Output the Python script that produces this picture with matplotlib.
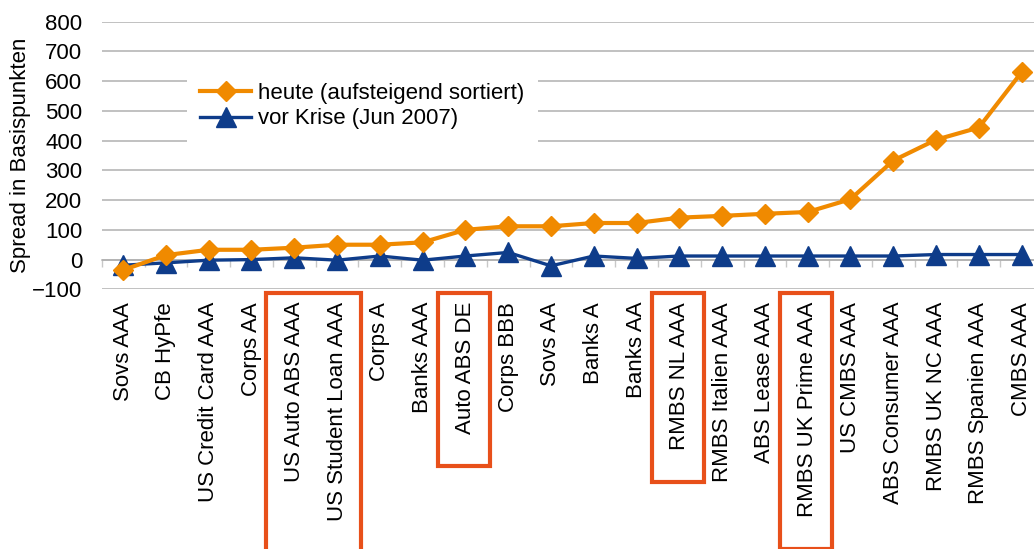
import numpy as np
import matplotlib
matplotlib.use('Agg')
import matplotlib.pyplot as plt
import matplotlib.transforms as mtransforms
from matplotlib.patches import Rectangle

categories = ['Sovs AAA', 'CB HyPfe', 'US Credit Card AAA', 'Corps AA', 'US Auto ABS AAA',
              'US Student Loan AAA', 'Corps A', 'Banks AAA', 'Auto ABS DE', 'Corps BBB',
              'Sovs AA', 'Banks A', 'Banks AA', 'RMBS NL AAA', 'RMBS Italien AAA',
              'ABS Lease AAA', 'RMBS UK Prime AAA', 'US CMBS AAA', 'ABS Consumer AAA',
              'RMBS UK NC AAA', 'RMBS Spanien AAA', 'CMBS AAA']
heute = [-35, 15, 33, 33, 40, 50, 50, 58, 100, 112, 112, 123, 123, 141, 147, 154,
         160, 203, 333, 403, 444, 630]
vor_krise = [-19, -11, -2, 0, 6, -2, 12, -2, 12, 24, -21, 12, 4, 12, 12, 12,
             12, 12, 12, 17, 17, 17]
highlight = [['US Auto ABS AAA', 'US Student Loan AAA'], ['Auto ABS DE'],
             ['RMBS NL AAA'], ['RMBS UK Prime AAA']]

plt.rcParams['font.family'] = ['Liberation Sans', 'DejaVu Sans']
plt.rcParams['font.size'] = 16

orange = '#F08A00'
blue = '#0E3C8A'
grid = '#B0B0B0'

fig = plt.figure(figsize=(10.34, 5.49), dpi=100)
ax = fig.add_axes([0.0984, 0.473, 0.9103, 0.4875])

x = np.arange(len(categories))
ax.plot(x, heute, color=orange, lw=3, marker='D', ms=10.5, label='heute (aufsteigend sortiert)', zorder=4)
ax.plot(x, vor_krise, color=blue, lw=2.4, marker='^', ms=14.5, label='vor Krise (Jun 2007)', zorder=3)

ax.set_xlim(-0.5, len(categories) - 0.5)
ax.set_ylim(-100, 800)
ax.set_yticks(np.arange(-100, 801, 100))
ax.yaxis.grid(True, color=grid, lw=1.1)
ax.set_axisbelow(True)
for s in ax.spines.values():
    s.set_visible(False)
ax.tick_params(axis='y', length=0, pad=14)
ax.set_xticks(x)
ax.set_xticklabels(categories, rotation=90, va='top', ha='center')
ax.tick_params(axis='x', length=0, pad=9)
ax.set_ylabel('Spread in Basispunkten', labelpad=1)

# category axis with boundary ticks at y = 0
ymin, ymax = ax.get_ylim()
sec = ax.secondary_xaxis((0 - ymin) / (ymax - ymin))
sec.set_xticks(np.arange(len(categories) + 1) - 0.5)
sec.set_xticklabels([])
sec.tick_params(length=5, width=1, color='#C8C8C8', direction='out')
sec.spines['bottom'].set_color(grid)
sec.spines['bottom'].set_linewidth(1.1)

leg = ax.legend(loc='upper left', bbox_to_anchor=(0.0906, 0.8225), frameon=True,
                facecolor='white', edgecolor='none', framealpha=1, fancybox=False,
                handlelength=2.3, handletextpad=0.3, labelspacing=0.22, borderpad=0.6,
                borderaxespad=0, fontsize=16)

# red frames around highlighted labels
fig.canvas.draw()
labels = ax.get_xticklabels()
trans = mtransforms.blended_transform_factory(ax.transData, fig.transFigure)
fig_h = fig.bbox.height
top = ax.get_position().y0 - 4 / fig_h
for group in highlight:
    idx = [categories.index(c) for c in group]
    lo = min(idx) - 0.65
    hi = max(idx) + 0.57
    low_px = min(labels[i].get_window_extent().y0 for i in idx) - 32
    bottom = low_px / fig_h
    rect = Rectangle((lo, bottom), hi - lo, top - bottom, transform=trans,
                     fill=False, edgecolor='#E8501A', lw=3, clip_on=False)
    fig.add_artist(rect)

fig.savefig('out.png', dpi=100)
